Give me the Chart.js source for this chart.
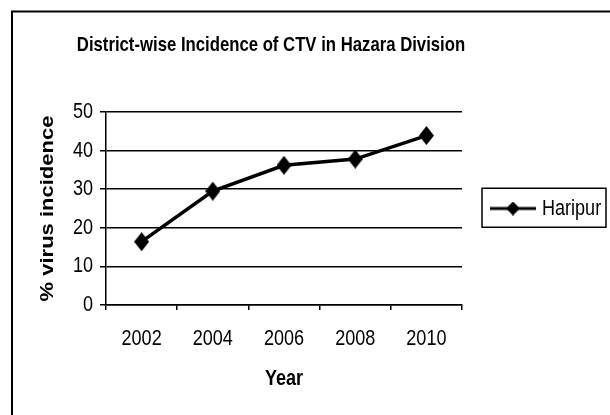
<!DOCTYPE html>
<html>
<head>
<meta charset="utf-8">
<script src="https://cdn.jsdelivr.net/npm/chart.js@4.4.1/dist/chart.umd.min.js"></script>
<style>
  html, body { margin: 0; padding: 0; background: #fff; }
</style>
</head>
<body>
<canvas id="ctvChart" width="610" height="415"></canvas>
<script>
// Data
const years = ['2002', '2004', '2006', '2008', '2010'];
const haripur = [16.4, 29.5, 36.2, 37.8, 43.9];
const yTicks = [0, 10, 20, 30, 40, 50];

const chartTitle = 'District-wise Incidence of CTV in Hazara Division';
const sans = '"Liberation Sans", Arial, sans-serif';

// The original picture is squeezed horizontally (narrow Arial look); no narrow
// face is installed, so text is squeezed along the screen x axis around its anchor.
const squash = 0.82;
function condenseText(ctx) {
    const fill = ctx.fillText.bind(ctx);
    ctx.fillText = function(text, x, y, maxWidth) {
        const m = ctx.getTransform();
        const p = m.transformPoint(new DOMPoint(x, y));
        ctx.save();
        ctx.setTransform(squash * m.a, m.b, squash * m.c, m.d, p.x, p.y);
        if (maxWidth === undefined) {
            fill(text, 0, 0);
        } else {
            fill(text, 0, 0, maxWidth / squash);
        }
        ctx.restore();
    };
}

// Diamond marker used for the points
function diamond(w, h) {
    const c = document.createElement('canvas');
    c.width = w;
    c.height = h;
    const ctx = c.getContext('2d');
    ctx.fillStyle = '#000';
    ctx.beginPath();
    ctx.moveTo(w / 2, 0);
    ctx.lineTo(w, h / 2);
    ctx.lineTo(w / 2, h);
    ctx.lineTo(0, h / 2);
    ctx.closePath();
    ctx.fill();
    return c;
}

// Line + diamond symbol for the legend
function legendSymbol() {
    const c = document.createElement('canvas');
    c.width = 46;
    c.height = 14;
    const ctx = c.getContext('2d');
    ctx.fillStyle = '#000';
    ctx.fillRect(0, 5.5, 46, 3);
    ctx.beginPath();
    ctx.moveTo(23, 0);
    ctx.lineTo(30, 7);
    ctx.lineTo(23, 14);
    ctx.lineTo(16, 7);
    ctx.closePath();
    ctx.fill();
    return c;
}

// Frame, title and legend box
const decorations = {
    id: 'decorations',
    beforeInit(chart) {
        condenseText(chart.ctx);
    },
    beforeDraw(chart) {
        const ctx = chart.ctx;
        ctx.save();
        ctx.fillStyle = '#fff';
        ctx.fillRect(0, 0, chart.width, chart.height);
        ctx.restore();
    },
    afterDraw(chart) {
        const ctx = chart.ctx;
        ctx.save();
        ctx.strokeStyle = '#000';
        ctx.lineWidth = 2;
        ctx.beginPath();
        ctx.moveTo(12, chart.height + 5);
        ctx.lineTo(12, 11.5);
        ctx.lineTo(chart.width + 5, 11.5);
        ctx.stroke();

        ctx.fillStyle = '#000';
        ctx.font = 'bold 20.4px ' + sans;
        ctx.textAlign = 'center';
        ctx.textBaseline = 'middle';
        ctx.fillText(chartTitle, 271, 45);

        const lg = chart.legend;
        const hb = lg.legendHitBoxes[0];
        if (hb) {
            const cy = hb.top + hb.height / 2;
            ctx.lineWidth = 1.5;
            ctx.strokeRect(lg.left + 20, Math.round(cy - 19.5) - 0.75, 124, 39);
        }
        ctx.restore();
    }
};

const padLeft = 20;

new Chart(document.getElementById('ctvChart'), {
    type: 'line',
    data: {
        labels: years,
        datasets: [{
            label: 'Haripur',
            data: haripur,
            borderColor: '#000',
            backgroundColor: '#000',
            borderWidth: 3.5,
            pointStyle: diamond(15, 19),
            pointRadius: 9,
            tension: 0,
            fill: false
        }]
    },
    options: {
        responsive: false,
        animation: false,
        layout: {
            padding: { top: 112, left: padLeft, right: 1, bottom: 0 }
        },
        plugins: {
            title: { display: false },
            tooltip: { enabled: false },
            legend: {
                position: 'right',
                align: 'center',
                fullSize: false,
                maxWidth: 147,
                labels: {
                    usePointStyle: true,
                    pointStyle: legendSymbol(),
                    pointStyleWidth: 36,
                    padding: 33,
                    color: '#000',
                    font: { family: sans, size: 22 }
                }
            }
        },
        scales: {
            x: {
                offset: true,
                ticks: {
                    color: '#000',
                    padding: 16,
                    font: { family: sans, size: 22 }
                },
                grid: {
                    offset: true,
                    drawOnChartArea: false,
                    color: '#000',
                    lineWidth: 1.5,
                    tickLength: 5
                },
                border: { color: '#000', width: 1.5 },
                title: {
                    display: true,
                    text: 'Year',
                    color: '#000',
                    font: { family: sans, size: 22, weight: 'bold' },
                    padding: { top: 0, bottom: 23 }
                },
                afterFit(scale) {
                    scale.height = 110;
                }
            },
            y: {
                min: 0,
                max: 50,
                afterBuildTicks(scale) {
                    scale.ticks = yTicks.map(v => ({ value: v }));
                },
                ticks: {
                    color: '#000',
                    padding: 7,
                    font: { family: sans, size: 22 }
                },
                grid: {
                    color: '#000',
                    lineWidth: 1.5,
                    tickLength: 6
                },
                border: { color: '#000', width: 1.5 },
                title: {
                    display: true,
                    text: '% virus incidence',
                    color: '#000',
                    font: { family: sans, size: 22, weight: 'bold' },
                    padding: { top: 15, bottom: 0 }
                },
                afterFit(scale) {
                    scale.width = 106 - padLeft;
                }
            }
        }
    },
    plugins: [decorations]
});
</script>
</body>
</html>
